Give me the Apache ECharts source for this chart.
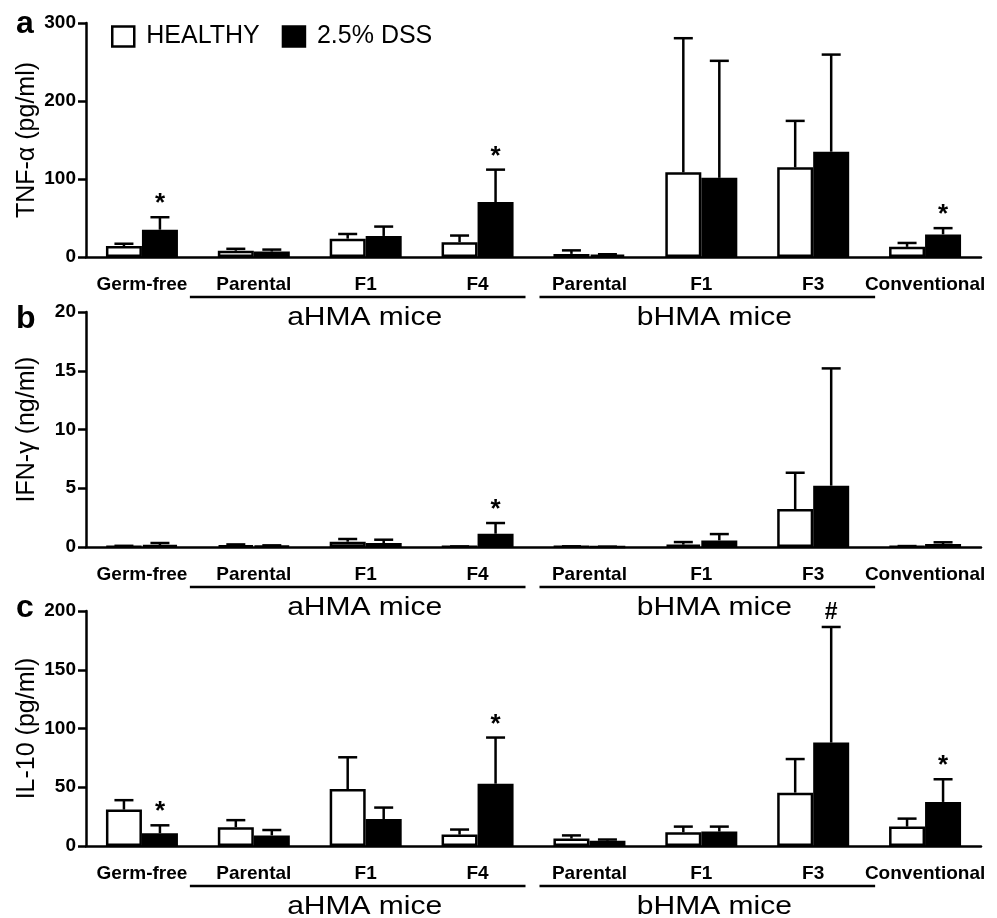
<!DOCTYPE html>
<html><head><meta charset="utf-8">
<script src="https://cdn.jsdelivr.net/npm/echarts@6/dist/echarts.min.js"></script>
<style>html,body{margin:0;padding:0;background:#fff}#c{width:997px;height:918px}</style>
</head><body><div id="c"></div><script>
// ---- data ----
const categories = ['Germ-free', 'Parental', 'F1', 'F4', 'Parental', 'F1', 'F3', 'Conventional'];
const seriesNames = ['HEALTHY', '2.5% DSS'];

// a: TNF-alpha (pg/ml)
const tnfHealthy      = [14, 8, 23.5, 19, 4, 108.5, 115, 13];
const tnfHealthyUpper = [17, 10.5, 29.5, 27.5, 8.5, 280.5, 174.5, 18];
const tnfDss          = [35, 7, 27, 70.5, 3, 101.5, 135, 29];
const tnfDssUpper     = [51, 9.5, 39, 112, 3.5, 251.5, 259.5, 37];
const tnfDssMarks     = ['*', '', '', '*', '', '', '', '*'];

// b: IFN-gamma (ng/ml)
const ifnHealthy      = [0.05, 0.12, 0.45, 0.03, 0.03, 0.2, 3.23, 0.05];
const ifnHealthyUpper = [0.1, 0.22, 0.68, 0.05, 0.06, 0.42, 6.32, 0.08];
const ifnDss          = [0.15, 0.1, 0.34, 1.13, 0.02, 0.56, 5.22, 0.25];
const ifnDssUpper     = [0.34, 0.14, 0.62, 2.04, 0.03, 1.1, 15.2, 0.4];
const ifnDssMarks     = ['', '', '', '*', '', '', '', ''];

// c: IL-10 (pg/ml)
const ilHealthy       = [31, 16, 48.5, 9.7, 6.3, 11.7, 45.4, 16.5];
const ilHealthyUpper  = [39, 22, 75.5, 14, 9, 16.5, 74, 23.3];
const ilDss           = [10.8, 9, 23, 53, 4.5, 12.3, 88, 37.5];
const ilDssUpper      = [17.6, 13.6, 32.7, 92.3, 5.5, 16.5, 186.4, 56.8];
const ilDssMarks      = ['*', '', '', '*', '', '', '#', '*'];

const noMarks = ['', '', '', '', '', '', '', ''];

const groupNames = ['aHMA mice', 'bHMA mice'];
const groupFrom  = [1, 4];
const groupTo    = [3, 6];

const panelLetters = ['a', 'b', 'c'];
const axisTitles   = ['TNF-\u03b1 (pg/ml)', 'IFN-\u03b3 (ng/ml)', 'IL-10 (pg/ml)'];
const axisMax      = [300, 20, 200];
const axisInterval = [100, 5, 50];

// ---- layout / style ----
const FONT = '"Liberation Sans", Arial, Helvetica, sans-serif';
const BAR_W = 36, CAP = 19, LW = 2.5;
const gridTops = [23, 312, 611];
const gridHeights = [234, 235, 235];
const groupShift = [-8, 6];

const panels = [
  {h: tnfHealthy, hu: tnfHealthyUpper, hm: noMarks, d: tnfDss, du: tnfDssUpper, dm: tnfDssMarks},
  {h: ifnHealthy, hu: ifnHealthyUpper, hm: noMarks, d: ifnDss, du: ifnDssUpper, dm: ifnDssMarks},
  {h: ilHealthy,  hu: ilHealthyUpper,  hm: noMarks, d: ilDss,  du: ilDssUpper,  dm: ilDssMarks}
];

function errRender(means, uppers, marks, sign) {
  return function (params, api) {
    const i = params.dataIndex;
    const base = api.coord([i, means[i]]);
    const top = api.coord([i, uppers[i]]);
    const x = base[0] + sign * BAR_W / 2;
    const children = [
      {type: 'line', shape: {x1: x, y1: base[1], x2: x, y2: top[1]}, style: {stroke: '#000', lineWidth: LW}},
      {type: 'line', shape: {x1: x - CAP / 2, y1: top[1], x2: x + CAP / 2, y2: top[1]}, style: {stroke: '#000', lineWidth: LW}}
    ];
    if (marks[i]) {
      const isStar = marks[i] === '*';
      children.push({type: 'text', x: x, y: top[1] - (isStar ? 0 : 3),
        style: {text: marks[i], textAlign: 'center', textVerticalAlign: 'bottom',
          font: 'bold ' + (isStar ? 26 : 23) + 'px ' + FONT, fill: '#000'}});
    }
    return {type: 'group', children: children};
  };
}

const series = [];
panels.forEach((p, g) => {
  series.push({name: seriesNames[0], type: 'bar', xAxisIndex: g, yAxisIndex: g, data: p.h,
    barWidth: BAR_W, barGap: '0%',
    itemStyle: {color: '#fff', borderColor: '#000', borderWidth: LW}});
  series.push({name: seriesNames[1], type: 'bar', xAxisIndex: g, yAxisIndex: g, data: p.d,
    barWidth: BAR_W, barGap: '0%',
    itemStyle: {color: '#000', borderColor: '#000', borderWidth: LW}});
  series.push({type: 'custom', xAxisIndex: g, yAxisIndex: g, z: 5,
    data: p.hu.map((v, i) => [i, v]), encode: {x: 0, y: 1},
    renderItem: errRender(p.h, p.hu, p.hm, -1)});
  series.push({type: 'custom', xAxisIndex: g, yAxisIndex: g, z: 5,
    data: p.du.map((v, i) => [i, v]), encode: {x: 0, y: 1},
    renderItem: errRender(p.d, p.du, p.dm, 1)});
});

const option = {
  animation: false,
  textStyle: {fontFamily: FONT},
  grid: panels.map((p, g) => ({left: 86, width: 895, top: gridTops[g], height: gridHeights[g]})),
  xAxis: panels.map((p, g) => ({
    type: 'category', gridIndex: g, data: categories,
    axisLine: {lineStyle: {color: '#000', width: LW}},
    axisTick: {alignWithLabel: true, length: 7, lineStyle: {color: '#000', width: LW}},
    axisLabel: {interval: 0, margin: 18, color: '#000', fontWeight: 'bold', fontSize: 19, fontFamily: FONT},
    splitLine: {show: false}
  })),
  yAxis: panels.map((p, g) => ({
    type: 'value', gridIndex: g, min: 0, max: axisMax[g], interval: axisInterval[g],
    name: axisTitles[g], nameLocation: 'middle', nameGap: 46, nameMoveOverlap: false,
    nameTextStyle: {fontSize: 25, color: '#000', fontFamily: FONT},
    axisLine: {show: true, lineStyle: {color: '#000', width: LW}},
    axisTick: {show: true, length: 8, lineStyle: {color: '#000', width: LW}},
    axisLabel: {margin: 10, color: '#000', fontWeight: 'bold', fontSize: 19, fontFamily: FONT},
    splitLine: {show: false}
  })),
  legend: {
    data: seriesNames, left: 106, top: 19, icon: 'rect', itemWidth: 22, itemHeight: 20, itemGap: 22,
    itemStyle: {borderColor: '#000', borderWidth: LW},
    textStyle: {fontSize: 25, color: '#000', fontFamily: FONT, padding: [0, 0, 0, 7]}
  },
  series: series
};

const chart = echarts.init(document.getElementById('c'), null, {renderer: 'canvas'});
chart.setOption(option);

// annotations: panel letters, group brackets, group labels
const graphics = [];
const letterY = [24, 319, 608];
panels.forEach((p, g) => {
  graphics.push({type: 'text', x: 16, y: letterY[g],
    style: {text: panelLetters[g], font: 'bold 32px ' + FONT, fill: '#000', textVerticalAlign: 'middle'}});
  const c0 = chart.convertToPixel({gridIndex: g}, [0, 0]);
  const c1 = chart.convertToPixel({gridIndex: g}, [1, 0]);
  const band = c1[0] - c0[0];
  groupNames.forEach((name, k) => {
    const a = chart.convertToPixel({gridIndex: g}, [groupFrom[k], 0]);
    const b = chart.convertToPixel({gridIndex: g}, [groupTo[k], 0]);
    const x1 = a[0] - band / 2 + groupShift[k];
    const x2 = b[0] + band / 2 + groupShift[k];
    const y = a[1] + 40;
    graphics.push({type: 'line', shape: {x1: x1, y1: y, x2: x2, y2: y},
      style: {stroke: '#000', lineWidth: LW}});
    graphics.push({type: 'text', x: (x1 + x2) / 2 + 7, y: a[1] + 61, scaleX: 1.2,
      style: {text: name, font: '25px ' + FONT, fill: '#000', textAlign: 'center', textVerticalAlign: 'middle'}});
  });
});
chart.setOption({graphic: graphics});
</script></body></html>
